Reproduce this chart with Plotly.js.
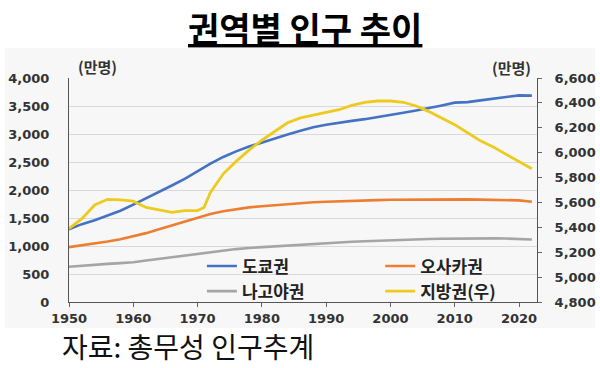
<!DOCTYPE html>
<html>
<head>
<meta charset="utf-8">
<script src="https://cdn.plot.ly/plotly-3.0.1.min.js"></script>
<style>html,body{margin:0;padding:0;background:#fff;}#chart{width:600px;height:368px;}</style>
</head>
<body>
<div id="chart"></div>
<script>
const years = [1950,1952,1954,1956,1958,1960,1962,1964,1966,1968,1970,1971,1972,1974,1976,1978,1980,1982,1984,1986,1988,1990,1992,1994,1996,1998,2000,2002,2004,2006,2008,2010,2012,2014,2016,2018,2020,2022];
const tokyo = [1300,1390,1460,1540,1630,1740,1850,1960,2080,2200,2340,2410,2470,2590,2690,2775,2850,2920,2990,3060,3120,3165,3205,3235,3265,3300,3340,3380,3420,3460,3510,3560,3570,3600,3630,3660,3690,3685];
const osaka = [980,1010,1040,1080,1120,1170,1230,1300,1370,1440,1510,1540,1570,1620,1660,1690,1710,1730,1750,1765,1780,1790,1800,1810,1815,1820,1825,1828,1830,1832,1833,1835,1833,1828,1825,1822,1815,1790];
const nagoya = [630,650,665,680,695,710,740,770,800,830,860,875,890,920,945,965,980,995,1010,1025,1040,1055,1065,1075,1085,1095,1105,1110,1118,1125,1130,1135,1137,1137,1137,1133,1128,1115];
const regional = [5390,5470,5580,5625,5620,5610,5560,5540,5520,5535,5535,5560,5680,5830,5930,6020,6100,6170,6240,6280,6300,6320,6345,6380,6405,6415,6415,6405,6375,6330,6275,6225,6160,6095,6045,5985,5925,5870];
const seriesNames = ['도쿄권','오사카권','나고야권','지방권(우)'];
const titleText = '권역별 인구 추이';
const sourceText = '자료: 총무성 인구추계';
const unitText = '(만명)';

const tickFont = {family:'DejaVu Sans, Verdana, sans-serif', size:13, color:'#333', weight:'bold'};
const legFont = {family:'Noto Sans CJK KR, sans-serif', size:17, color:'#222', weight:'bold'};

const traces = [
  {x:years, y:tokyo, name:seriesNames[0], mode:'lines', line:{color:'#4472C4', width:2.6}, legend:'legend'},
  {x:years, y:osaka, name:seriesNames[1], mode:'lines', line:{color:'#ED7D31', width:2.6}, legend:'legend2'},
  {x:years, y:nagoya, name:seriesNames[2], mode:'lines', line:{color:'#A5A5A5', width:2.6}, legend:'legend'},
  {x:years, y:regional, name:seriesNames[3], mode:'lines', line:{color:'#EDCB1E', width:2.8}, yaxis:'y2', legend:'legend2'}
];

const layout = {
  width:600, height:368,
  margin:{l:69, r:63, t:78, b:66},
  paper_bgcolor:'#ffffff',
  plot_bgcolor:'rgba(0,0,0,0)',
  showlegend:true,
  xaxis:{range:[1950,2022.8], tickvals:[1950,1960,1970,1980,1990,2000,2010,2020], ticks:'outside', ticklen:4, tickcolor:'#666',
         showline:true, linecolor:'#555', linewidth:1, showgrid:false, zeroline:false, tickfont:tickFont, fixedrange:true},
  yaxis:{range:[0,4000], dtick:500, tickformat:',', showline:true, linecolor:'#555', linewidth:1, gridcolor:'#d9d9d9', gridwidth:1,
         zeroline:false, tickfont:tickFont, ticks:'', ticklabelstandoff:16},
  yaxis2:{range:[4800,6600], dtick:200, tickformat:',', overlaying:'y', side:'right', showline:true, linecolor:'#555', linewidth:1,
          showgrid:false, zeroline:false, tickfont:tickFont, ticks:'outside', ticklen:4, tickcolor:'#666', ticklabelstandoff:10},
  legend:{x:0.284, y:0.103, xanchor:'left', yanchor:'middle', bgcolor:'rgba(0,0,0,0)', font:legFont, tracegroupgap:0, itemwidth:30},
  legend2:{x:0.665, y:0.103, xanchor:'left', yanchor:'middle', bgcolor:'rgba(0,0,0,0)', font:legFont, tracegroupgap:0, itemwidth:30},
  shapes:[
    {type:'rect', xref:'paper', yref:'paper', x0:-0.137, x1:1.124, y0:-0.116, y1:1.134, fillcolor:'#f7f7f7', line:{width:0}, layer:'below'}
  ],
  annotations:[
    {text:'<b><u>'+titleText+'</u></b>', xref:'paper', yref:'paper', x:(305-69)/468, y:1+(78-27)/224, xanchor:'center', yanchor:'middle',
     showarrow:false, font:{family:'Noto Sans CJK KR, sans-serif', size:34, color:'#000'}},
    {text:'<b>'+unitText+'</b>', xref:'paper', yref:'paper', x:(97-69)/468, y:1+(78-66)/224, xanchor:'center', yanchor:'middle',
     showarrow:false, font:{family:'Noto Sans CJK KR, sans-serif', size:15, color:'#333'}},
    {text:'<b>'+unitText+'</b>', xref:'paper', yref:'paper', x:(511-69)/468, y:1+(78-67)/224, xanchor:'center', yanchor:'middle',
     showarrow:false, font:{family:'Noto Sans CJK KR, sans-serif', size:15, color:'#333'}},
    {text:sourceText, xref:'paper', yref:'paper', x:(60-69)/468, y:-(346-302)/224, xanchor:'left', yanchor:'middle',
     showarrow:false, font:{family:'Noto Sans CJK KR, sans-serif', size:28, color:'#111'}}
  ]
};
Plotly.newPlot('chart', traces, layout, {staticPlot:true, displayModeBar:false});
</script>
</body>
</html>
